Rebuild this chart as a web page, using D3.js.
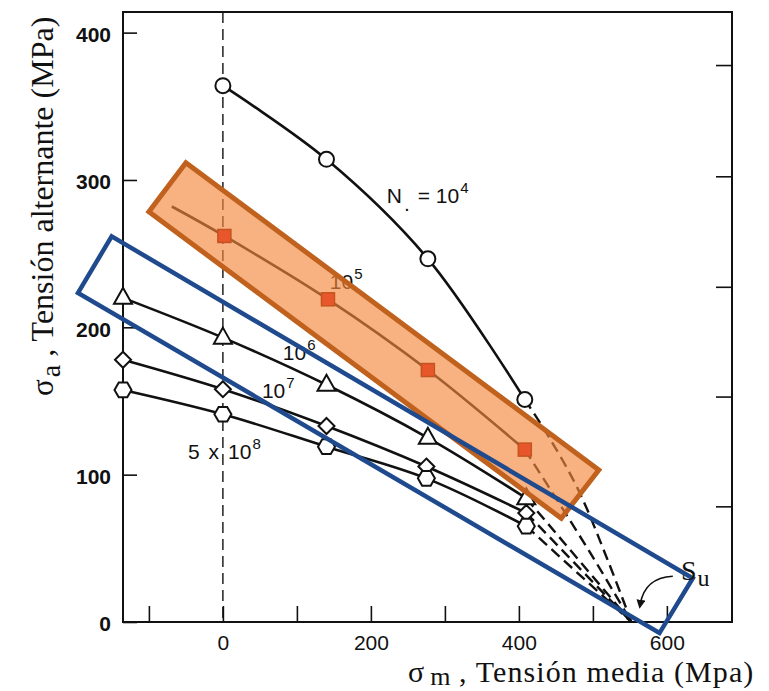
<!DOCTYPE html>
<html><head><meta charset="utf-8">
<script src="https://cdn.jsdelivr.net/npm/d3@7/dist/d3.min.js"></script>
<style>body{margin:0;background:#fff}</style>
</head><body>
<svg id="c" width="769" height="691"></svg>
<script>
// ---- data (MPa) ----
const xTicks = [-100, 0, 100, 200, 300, 400, 500, 600];
const xTickLabels = [0, 200, 400, 600];
const yTickLabels = [0, 100, 200, 300, 400];
const rightTicks = [78.5, 153, 227.5, 302.5, 378];
const Su = [552, 0];

const n1e4X = [0, 140, 277, 408];
const n1e4Y = [364, 314, 246.5, 151];
const n1e4Dash = [[408, 151], [440, 126], [480, 90], [520, 42], [552, 0]];

const n1e5X = [-69, 2, 142, 277, 408];
const n1e5Y = [282, 262, 219, 171, 117];
const n1e5Dash = [[408, 117], [445, 88], [500, 44], [552, 0]];

const n1e6X = [-135, 0, 140, 277, 410];
const n1e6Y = [220, 193, 161, 125, 84];
const n1e6Dash = [[410, 84], [552, 0]];

const n1e7X = [-135, 0, 140, 275, 410];
const n1e7Y = [178, 158, 133, 105.5, 74];
const n1e7Dash = [[410, 74], [552, 0]];

const n5e8X = [-135, 0, 140, 275, 410];
const n5e8Y = [157.5, 141, 119, 97.5, 65];
const n5e8Dash = [[410, 65], [552, 0]];

const orangeBox = [[-50, 311.7], [508, 103.2], [457.3, 70.4], [-100, 278.4]];
const blueBox = [[-150.3, 261.7], [635, 29.7], [590, -7.5], [-195.8, 223.4]];
const suArrow = [[608, 31], [570, 30], [564, 12]];

// ---- setup ----
const svg = d3.select("#c");
const SANS = "'Liberation Sans', Arial, Helvetica, sans-serif";
const SERIF = "'Liberation Serif', 'Times New Roman', Times, serif";
const x = d3.scaleLinear().domain([-135, 688]).range([123, 732]);
const y = d3.scaleLinear().domain([0, 414]).range([622, 12]);
const zip = (a, b) => a.map((v, i) => [v, b[i]]);

// frame
svg.append("rect")
  .attr("x", x(-135)).attr("y", y(414))
  .attr("width", x(688) - x(-135)).attr("height", y(0) - y(414))
  .attr("fill", "none").attr("stroke", "#111").attr("stroke-width", 2);

// axes
const gx = svg.append("g").attr("transform", `translate(0,${y(0)})`)
  .call(d3.axisBottom(x).tickValues(xTicks).tickSizeInner(-16).tickSizeOuter(0).tickPadding(13)
    .tickFormat(d => xTickLabels.includes(d) ? d : ""));
gx.select(".domain").remove();
gx.selectAll("line").attr("stroke", "#111").attr("stroke-width", 1.6);
gx.selectAll("text").attr("font-family", SANS).attr("font-size", 21).attr("fill", "#111");

const gy = svg.append("g").attr("transform", `translate(${x(-135)},0)`)
  .call(d3.axisLeft(y).tickValues(yTickLabels).tickSizeInner(-14).tickSizeOuter(0).tickPadding(12));
gy.select(".domain").remove();
gy.selectAll("line").attr("stroke", "#111").attr("stroke-width", 1.6);
gy.selectAll("text").attr("font-family", SANS).attr("font-size", 21).attr("font-weight", "bold")
  .attr("fill", "#111").attr("dy", "0.42em");

const gr = svg.append("g").attr("transform", `translate(${x(688)},0)`)
  .call(d3.axisRight(y).tickValues(rightTicks).tickSizeInner(-16).tickSizeOuter(0).tickFormat(""));
gr.select(".domain").remove();
gr.selectAll("line").attr("stroke", "#111").attr("stroke-width", 1.6);

// vertical dashed line at sigma_m = 0
svg.append("line").attr("x1", x(0)).attr("x2", x(0)).attr("y1", y(414)).attr("y2", y(0))
  .attr("stroke", "#111").attr("stroke-width", 1.4).attr("stroke-dasharray", "11,6");

// lines
const line = d3.line().x(d => x(d[0])).y(d => y(d[1])).curve(d3.curveCatmullRom.alpha(0.5));
const series = [
  [zip(n1e4X, n1e4Y), n1e4Dash],
  [zip(n1e5X, n1e5Y), n1e5Dash],
  [zip(n1e6X, n1e6Y), n1e6Dash],
  [zip(n1e7X, n1e7Y), n1e7Dash],
  [zip(n5e8X, n5e8Y), n5e8Dash]
];
series.forEach(([pts, dash]) => {
  svg.append("path").attr("d", line(pts)).attr("fill", "none")
    .attr("stroke", "#111").attr("stroke-width", 2.6);
  svg.append("path").attr("d", line(dash)).attr("fill", "none")
    .attr("stroke", "#111").attr("stroke-width", 2.4).attr("stroke-dasharray", "11,6");
});

// markers
function marker(pts, shape) {
  const g = svg.append("g");
  pts.forEach(([a, b]) => {
    const cx = x(a), cy = y(b);
    let el;
    if (shape === "circle") el = g.append("circle").attr("cx", cx).attr("cy", cy).attr("r", 7.5);
    else if (shape === "tri") el = g.append("path").attr("d", `M${cx},${cy-10}L${cx+9},${cy+6}L${cx-9},${cy+6}Z`);
    else if (shape === "diamond") el = g.append("path").attr("d", `M${cx},${cy-8}L${cx+8},${cy}L${cx},${cy+8}L${cx-8},${cy}Z`);
    else if (shape === "hex") {
      const r = 8.5;
      const p = d3.range(6).map(k => [cx + r * Math.cos(k * Math.PI / 3), cy + r * Math.sin(k * Math.PI / 3)]);
      el = g.append("path").attr("d", "M" + p.join("L") + "Z");
    }
    el.attr("fill", "#fff").attr("stroke", "#111").attr("stroke-width", 2);
  });
}
marker(zip(n1e4X, n1e4Y), "circle");
marker(zip(n1e6X, n1e6Y), "tri");
marker(zip(n1e7X, n1e7Y), "diamond");
marker(zip(n5e8X, n5e8Y), "hex");

// curve labels
function label(xv, yv, parts, size) {
  const t = svg.append("text").attr("x", x(xv)).attr("y", y(yv))
    .attr("font-family", SANS).attr("font-size", size).attr("fill", "#111");
  parts.forEach(p => {
    const s = t.append("tspan").text(p.t);
    if (p.dy) s.attr("dy", p.dy);
    if (p.dx) s.attr("dx", p.dx);
    if (p.fs) s.attr("font-size", p.fs);
  });
  return t;
}
label(221.4, 284.5, [{t: "N"}, {t: ".", dy: 8, dx: 2}, {t: "= 10", dy: -8, dx: 8}, {t: "4", dy: -10, dx: 1, fs: 15}], 21);
label(144.5, 226, [{t: "10"}, {t: "5", dy: -10, dx: 1, fs: 15}], 21);
label(81, 178, [{t: "10"}, {t: "6", dy: -10, dx: 1, fs: 15}], 21);
label(52.7, 152, [{t: "10"}, {t: "7", dy: -10, dx: 1, fs: 15}], 21);
label(-47.3, 110.7, [{t: "5"}, {t: "x", dx: 9}, {t: "10", dx: 9}, {t: "8", dy: -10, dx: 1, fs: 15}], 21);

// orange highlight box (over the 10^5 curve)
svg.append("path")
  .attr("d", "M" + orangeBox.map(d => [x(d[0]), y(d[1])]).join("L") + "Z")
  .attr("fill", "rgb(245,135,60)").attr("fill-opacity", 0.65)
  .attr("stroke", "#c0621e").attr("stroke-width", 5).attr("stroke-linejoin", "miter");

// squares for 10^5 (drawn on top)
zip(n1e5X, n1e5Y).slice(1).forEach(([a, b]) => {
  svg.append("rect").attr("x", x(a) - 6.5).attr("y", y(b) - 6.5).attr("width", 13).attr("height", 13)
    .attr("fill", "#e8562b").attr("stroke", "#c4541f").attr("stroke-width", 1.5);
});

// blue box
svg.append("path")
  .attr("d", "M" + blueBox.map(d => [x(d[0]), y(d[1])]).join("L") + "Z")
  .attr("fill", "none").attr("stroke", "#1f4a8e").attr("stroke-width", 4.5);

// Su annotation
svg.append("defs").append("marker").attr("id", "ah").attr("viewBox", "0 0 10 10")
  .attr("refX", 5).attr("refY", 5).attr("markerWidth", 9).attr("markerHeight", 9)
  .attr("orient", "auto-start-reverse").attr("markerUnits", "userSpaceOnUse")
  .append("path").attr("d", "M0,0L10,5L0,10Z").attr("fill", "#111");
svg.append("path")
  .attr("d", `M${x(suArrow[0][0])},${y(suArrow[0][1])}Q${x(suArrow[1][0])},${y(suArrow[1][1])} ${x(suArrow[2][0])},${y(suArrow[2][1])}`)
  .attr("fill", "none").attr("stroke", "#111").attr("stroke-width", 1.6).attr("marker-end", "url(#ah)");
const su = svg.append("text").attr("x", x(619)).attr("y", y(28.5))
  .attr("font-family", SERIF).attr("font-size", 28).attr("fill", "#111");
su.append("tspan").text("S");
su.append("tspan").text("u").attr("font-size", 24).attr("dy", 6).attr("dx", 1);

// axis titles
const xt = svg.append("text").attr("x", 408).attr("y", 682)
  .attr("font-family", SERIF).attr("font-size", 30).attr("fill", "#111");
xt.append("tspan").text("σ");
xt.append("tspan").text("m").attr("dy", 3).attr("dx", 6).attr("font-size", 26);
xt.append("tspan").text(" , Tensión media (Mpa)").attr("dy", -3).attr("letter-spacing", 1.1);

const yt = svg.append("text").attr("transform", "translate(53,396) rotate(-90)")
  .attr("font-family", SERIF).attr("font-size", 31).attr("fill", "#111");
yt.append("tspan").text("σ");
yt.append("tspan").text("a").attr("dy", 7).attr("dx", 2).attr("font-size", 28);
yt.append("tspan").text(" , Tensión alternante (MPa)").attr("dy", -7).attr("font-size", 32);
</script>
</body></html>
